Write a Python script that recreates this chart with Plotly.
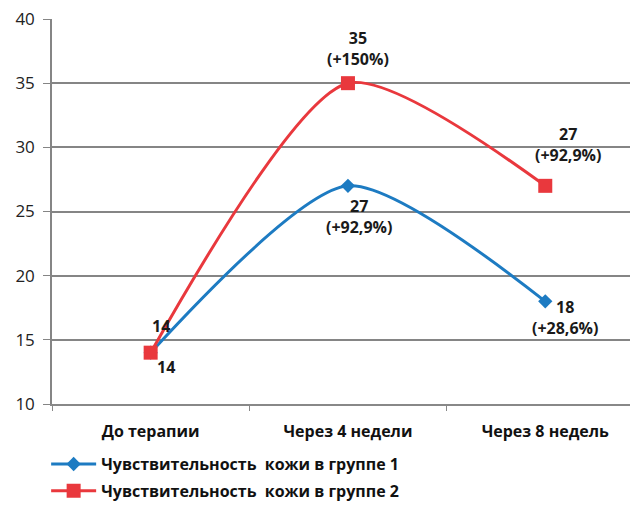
import plotly.graph_objects as go

categories = ["До терапии", "Через 4 недели", "Через 8 недель"]
group1 = [14, 27, 18]
group2 = [14, 35, 27]
group1_pct = ["", "+92,9%", "+28,6%"]
group2_pct = ["", "+150%", "+92,9%"]
name1 = "Чувствительность  кожи в группе 1"
name2 = "Чувствительность  кожи в группе 2"

BLUE = "#1d7bc2"
RED = "#e9383d"
FONT = "Open Sans"

fig = go.Figure()
fig.add_trace(go.Scatter(
    x=categories, y=group1, name=name1, mode="lines+markers", legendgroup="g1",
    line=dict(color=BLUE, width=3, shape="spline", smoothing=0.7),
    marker=dict(symbol="diamond", size=11, color=BLUE),
))
fig.add_trace(go.Scatter(
    x=categories, y=group2, name=name2, mode="lines+markers", legendgroup="g2",
    line=dict(color=RED, width=3, shape="spline", smoothing=0.7),
    marker=dict(symbol="square", size=14, color=RED),
))

def lab(v, p):
    return f"{v}" if not p else f"{v}<br>({p})"

# label offsets (pixels) per point
g1_off = [(15, -14), (11, -31), (20, -16)]
g2_off = [(10, 27), (10, 35), (23, 41)]
anns = []
for i, c in enumerate(categories):
    anns.append(dict(x=c, y=group1[i], xref="x", yref="y", text=lab(group1[i], group1_pct[i]),
                     showarrow=False, xshift=g1_off[i][0], yshift=g1_off[i][1],
                     font=dict(family=FONT, size=16, color="#1a1a1a", weight="bold"), align="center"))
    anns.append(dict(x=c, y=group2[i], xref="x", yref="y", text=lab(group2[i], group2_pct[i]),
                     showarrow=False, xshift=g2_off[i][0], yshift=g2_off[i][1],
                     font=dict(family=FONT, size=16, color="#1a1a1a", weight="bold"), align="center"))

fig.update_layout(
    width=630, height=497,
    margin=dict(l=44, r=0, t=11, b=101, autoexpand=False),
    paper_bgcolor="white", plot_bgcolor="white",
    font=dict(family=FONT, color="#222"),
    annotations=anns,
    showlegend=True,
    legend=dict(x=-0.010, y=-0.112, xanchor="left", yanchor="top",
                font=dict(family=FONT, size=16, color="#111", weight="bold"),
                bgcolor="rgba(0,0,0,0)", itemwidth=45, traceorder="grouped", tracegroupgap=3),
    xaxis=dict(range=[-0.5, 2.47], showgrid=False, showline=True, linecolor="#888", linewidth=1.5,
               ticks="outside", ticklen=5, tickcolor="#888", tickson="boundaries",
               tickfont=dict(family=FONT, size=16, color="#111", weight="bold"),
               ticklabelstandoff=12, zeroline=False),
    yaxis=dict(range=[10, 40], dtick=5, showgrid=True, gridcolor="#858585", gridwidth=1.5,
               showline=True, linecolor="#858585", linewidth=1.5, ticks="outside", ticklen=7,
               tickcolor="#858585", tickfont=dict(family=FONT, size=17, color="#222"),
               ticklabelstandoff=5, ticklabeloverflow="allow", zeroline=False),
)

fig.write_html("out.html")
